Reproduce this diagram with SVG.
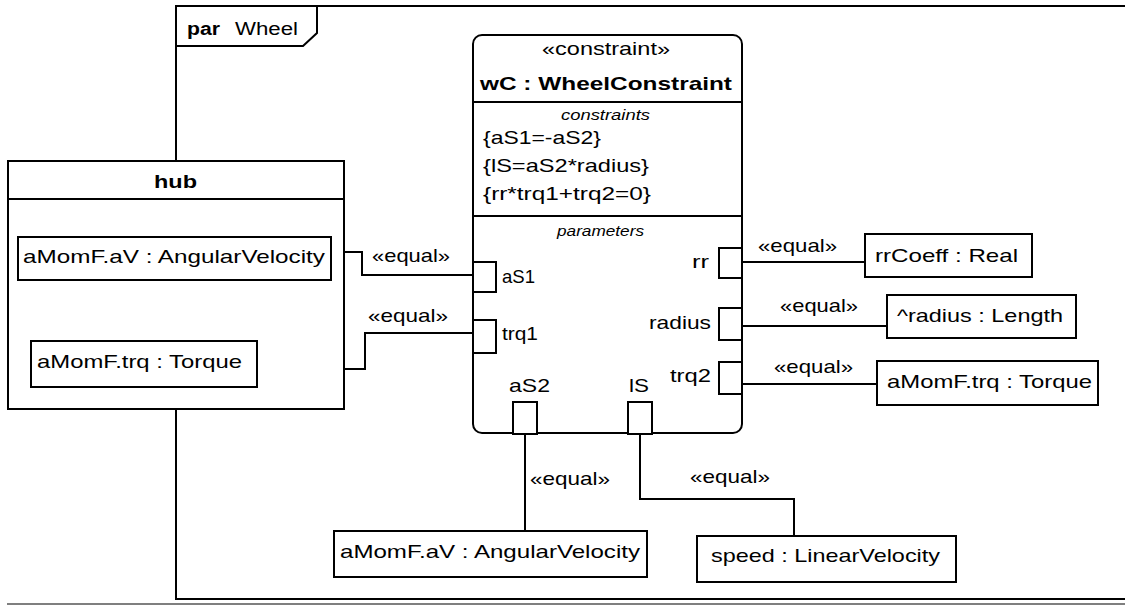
<svg xmlns="http://www.w3.org/2000/svg" width="1125" height="605" viewBox="0 0 1125 605">
<style>
.ln{fill:none;stroke:#000;stroke-width:2}
.bx{fill:#fff;stroke:#000;stroke-width:2}
text{font-family:"Liberation Sans",Arial,sans-serif;font-size:19px;fill:#000}
.b{font-weight:bold}
.i{font-style:italic;font-size:15px}
.h{font-size:18px}
</style>
<rect width="1125" height="605" fill="#fff"/>
<g id="frame">
<path class="ln" d="M1127,6 H176 V599 H1127"/>
<path class="ln" d="M176,46 H303 L317,33 V6"/>
<text class="h b" x="187" y="35" textLength="33" lengthAdjust="spacingAndGlyphs">par</text>
<text class="h" x="235" y="35" textLength="63" lengthAdjust="spacingAndGlyphs">Wheel</text>
<line x1="7" y1="604" x2="1125" y2="604" stroke="#555" stroke-width="1.5"/>
</g>
<g id="connectors">
<path class="ln" d="M331,252 H362 V275 H473"/>
<path class="ln" d="M257,369 H365 V333 H473"/>
<path class="ln" d="M743,262 H865"/>
<path class="ln" d="M743,326 H887"/>
<path class="ln" d="M743,384 H877"/>
<path class="ln" d="M525,434 V531"/>
<path class="ln" d="M640,434 V499 H794 V536"/>
<text x="372" y="262" textLength="78" lengthAdjust="spacingAndGlyphs">«equal»</text>
<text x="368" y="322" textLength="80" lengthAdjust="spacingAndGlyphs">«equal»</text>
<text x="758" y="252" textLength="79" lengthAdjust="spacingAndGlyphs">«equal»</text>
<text x="780" y="312" textLength="78" lengthAdjust="spacingAndGlyphs">«equal»</text>
<text x="774" y="373" textLength="79" lengthAdjust="spacingAndGlyphs">«equal»</text>
<text x="530" y="485" textLength="80" lengthAdjust="spacingAndGlyphs">«equal»</text>
<text x="690" y="483" textLength="80" lengthAdjust="spacingAndGlyphs">«equal»</text>
</g>
<g id="hub">
<rect class="bx" x="8" y="161" width="336" height="248"/>
<line class="ln" x1="8" y1="199" x2="344" y2="199"/>
<text class="b" x="154" y="188" textLength="43" lengthAdjust="spacingAndGlyphs">hub</text>
</g>
<g id="hub-aV">
<rect class="bx" x="18" y="237" width="313" height="43"/>
<text x="23" y="263" textLength="302" lengthAdjust="spacingAndGlyphs">aMomF.aV : AngularVelocity</text>
</g>
<g id="hub-trq">
<rect class="bx" x="31" y="341" width="226" height="46"/>
<text x="37" y="368" textLength="205" lengthAdjust="spacingAndGlyphs">aMomF.trq : Torque</text>
</g>
<g id="wC">
<rect class="bx" x="473" y="35" width="269" height="398" rx="9"/>
<line class="ln" x1="473" y1="102" x2="742" y2="102"/>
<line class="ln" x1="473" y1="216" x2="742" y2="216"/>
<text x="542" y="55" textLength="128" lengthAdjust="spacingAndGlyphs">«constraint»</text>
<text class="b" x="480" y="90" textLength="252" lengthAdjust="spacingAndGlyphs">wC : WheelConstraint</text>
<text class="i" x="561" y="120" textLength="89" lengthAdjust="spacingAndGlyphs">constraints</text>
<text x="483" y="144" textLength="118" lengthAdjust="spacingAndGlyphs">{aS1=-aS2}</text>
<text x="483" y="172" textLength="166" lengthAdjust="spacingAndGlyphs">{lS=aS2*radius}</text>
<text x="483" y="200" textLength="168" lengthAdjust="spacingAndGlyphs">{rr*trq1+trq2=0}</text>
<text class="i" x="557" y="236" textLength="87" lengthAdjust="spacingAndGlyphs">parameters</text>
<rect class="bx" x="473" y="262" width="23" height="30"/>
<text x="502" y="283" textLength="33" lengthAdjust="spacingAndGlyphs">aS1</text>
<rect class="bx" x="473" y="320" width="23" height="33"/>
<text x="502" y="340" textLength="36" lengthAdjust="spacingAndGlyphs">trq1</text>
<rect class="bx" x="719" y="248" width="23" height="30"/>
<text x="692" y="268" textLength="17" lengthAdjust="spacingAndGlyphs">rr</text>
<rect class="bx" x="719" y="308" width="23" height="32"/>
<text x="649" y="329" textLength="62" lengthAdjust="spacingAndGlyphs">radius</text>
<rect class="bx" x="719" y="362" width="23" height="32"/>
<text x="670" y="382" textLength="41" lengthAdjust="spacingAndGlyphs">trq2</text>
<rect class="bx" x="513" y="402" width="24" height="32"/>
<text x="509" y="392" textLength="41" lengthAdjust="spacingAndGlyphs">aS2</text>
<rect class="bx" x="628" y="402" width="24" height="32"/>
<text x="629" y="392" textLength="20" lengthAdjust="spacingAndGlyphs">lS</text>
</g>
<g id="rrCoeff">
<rect class="bx" x="865" y="234" width="167" height="43"/>
<text x="875" y="262" textLength="143" lengthAdjust="spacingAndGlyphs">rrCoeff : Real</text>
</g>
<g id="radius">
<rect class="bx" x="887" y="295" width="189" height="43"/>
<text x="897" y="322" textLength="166" lengthAdjust="spacingAndGlyphs">^radius  : Length</text>
</g>
<g id="trq-right">
<rect class="bx" x="877" y="361" width="221" height="44"/>
<text x="887" y="388" textLength="205" lengthAdjust="spacingAndGlyphs">aMomF.trq : Torque</text>
</g>
<g id="aV-bottom">
<rect class="bx" x="334" y="531" width="313" height="46"/>
<text x="340" y="558" textLength="300" lengthAdjust="spacingAndGlyphs">aMomF.aV : AngularVelocity</text>
</g>
<g id="speed">
<rect class="bx" x="697" y="536" width="259" height="46"/>
<text x="711" y="562" textLength="229" lengthAdjust="spacingAndGlyphs">speed : LinearVelocity</text>
</g>
</svg>
